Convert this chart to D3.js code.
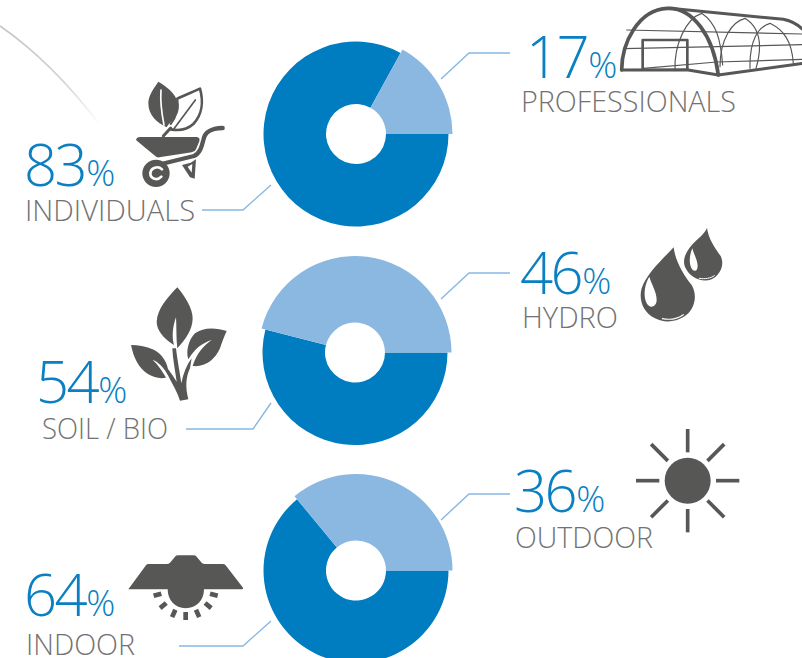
<!DOCTYPE html>
<html>
<head>
<meta charset="utf-8">
<script src="https://cdn.jsdelivr.net/npm/d3@7/dist/d3.min.js"></script>
<style>
  html, body { margin: 0; padding: 0; background: #fff; overflow: hidden; }
  svg { display: block; }
  text { font-family: "Open Sans", sans-serif; font-weight: 300; }
</style>
</head>
<body>
<div id="chart"></div>
<script>
// Share of growers by profile, growing method and location
const segmentLabels = [["INDIVIDUALS", "PROFESSIONALS"], ["SOIL / BIO", "HYDRO"], ["INDOOR", "OUTDOOR"]];
const darkValues = [83, 54, 64];
const lightValues = [17, 46, 36];

const BLUE = "#007cc0", PALE = "#8ab8e1", LEADER = "#86b8e4", TEXT = "#727272", ICON = "#575756";

// Placement of each donut and of its two captions
const layout = [
  { cx: 356, cy: 134,
    dark: { x: 24, y: 186, lx: 25, ly: 221, lw: 170, line: [[271,185],[243,210],[202,210]] },
    light: { x: 526, y: 78, lx: 521, ly: 112, lw: 215, line: [[441,79],[469,53],[510,53]] } },
  { cx: 355, cy: 352.5,
    dark: { x: 36, y: 403, lx: 42, ly: 439, lw: 126, line: [[271,403],[253,429],[186,429]] },
    light: { x: 520, y: 294, lx: 522, ly: 328, lw: 96, line: [[441,299],[469,273],[510,273]] } },
  { cx: 356, cy: 570.5,
    dark: { x: 24, y: 616, lx: 26, ly: 655, lw: 109, line: [[271,621],[243,646],[179,646]] },
    light: { x: 514, y: 512, lx: 515, ly: 548, lw: 138, line: [[441,520],[469,494],[510,494]] } }
];

const svg = d3.select("#chart").append("svg").attr("width", 802).attr("height", 658);

// Faint sweeping curve behind the top-left corner
const defs = svg.append("defs");
const fade = defs.append("linearGradient").attr("id", "sweep")
  .attr("gradientUnits", "userSpaceOnUse")
  .attr("x1", 0).attr("y1", 25).attr("x2", 100).attr("y2", 125);
fade.append("stop").attr("offset", 0).attr("stop-color", "#c4c4c4");
fade.append("stop").attr("offset", 0.6).attr("stop-color", "#d2d2d2");
fade.append("stop").attr("offset", 1).attr("stop-color", "#ffffff");
svg.append("path").attr("d", "M0 26 Q52 62 100 125").attr("fill", "none")
  .attr("stroke", "url(#sweep)").attr("stroke-width", 1.6);

const pie = d3.pie().sort(null).startAngle(Math.PI / 2).endAngle(Math.PI / 2 + 2 * Math.PI);

layout.forEach((p, i) => {
  const g = svg.append("g").attr("transform", `translate(${p.cx},${p.cy})`);
  // The pale slice stands slightly proud of the dark ring
  const arc = d3.arc().innerRadius(30).outerRadius((d, k) => d.index === 0 ? 92.5 : 96.5);
  g.selectAll("path")
    .data(pie([darkValues[i], lightValues[i]]))
    .join("path")
    .attr("d", arc)
    .attr("fill", d => d.index === 0 ? BLUE : PALE);

  [[p.dark, darkValues[i], segmentLabels[i][0]], [p.light, lightValues[i], segmentLabels[i][1]]]
    .forEach(([c, value, label]) => {
      svg.append("path").attr("d", d3.line()(c.line)).attr("fill", "none")
        .attr("stroke", LEADER).attr("stroke-width", 1.4);
      const num = svg.append("text").attr("x", c.x).attr("y", c.y).attr("fill", "#0a7fc2");
      num.append("tspan").attr("font-size", 58).attr("letter-spacing", -2.5).text(value);
      num.append("tspan").attr("font-size", 36).attr("dx", 1).text("%");
      svg.append("text").attr("x", c.lx).attr("y", c.ly).attr("fill", TEXT)
        .attr("font-size", 29.5).attr("textLength", c.lw).attr("lengthAdjust", "spacingAndGlyphs").text(label);
    });
});

// Pictograms beside each caption
const icon = (x, y) => svg.append("g").attr("transform", `translate(${x},${y}) scale(${1 / 3})`);
const fill = (g, d, c = ICON) => g.append("path").attr("d", d).attr("fill", c);
const line = (g, d, w, c = ICON) => g.append("path").attr("d", d).attr("fill", "none")
  .attr("stroke", c).attr("stroke-width", w).attr("stroke-linecap", "round").attr("stroke-linejoin", "round");

// Wheelbarrow with two leaves
const barrow = icon(0, 0);
fill(barrow, "M475 245C505 262 537 290 536 325C535 350 512 362 500 382C470 368 445 345 445 310C445 285 462 265 475 245Z");
line(barrow, "M483 270C480 310 486 345 492 375", 5, "#fff");
line(barrow, "M532 296C555 284 580 276 600 266C611 305 606 345 580 372C558 392 532 392 512 388", 8);
line(barrow, "M532 296C537 320 530 350 512 372", 6);
line(barrow, "M522 386L586 300", 5);
line(barrow, "M512 384L490 408", 9);
fill(barrow, "M408 420Q410 411 420 411L590 411Q601 412 598 424L588 448Q585 456 575 457L478 472Q470 473 465 467L432 440Z");
line(barrow, "M484 492L582 468C600 460 605 440 610 420C614 398 628 385 668 384", 13);
fill(barrow, "M546 495L572 488L588 478L584 536L570 532Z");
fill(barrow, "M563 500L575 518L577 492Z", "#fff");
barrow.append("circle").attr("cx", 468).attr("cy", 520).attr("r", 41).attr("fill", ICON);
line(barrow, "M486 508C474 496 452 503 451 520C451 537 472 543 484 530", 8, "#fff");

// Greenhouse, clipped by the right edge of the page
const house = icon(430, 0);
line(house, "M590 90L1120 102M582 146L1120 134M640 205L860 186L1120 178", 3.5);
line(house, "M735 212C732 130 770 55 815 40C860 70 872 120 878 195", 3.5);
line(house, "M870 200C870 120 905 65 945 55C985 80 1000 130 978 205", 3.5);
line(house, "M960 205C958 120 985 80 1020 70C1060 90 1085 120 1090 190", 3.5);
line(house, "M575 210C575 130 625 28 712 25C790 22 850 110 865 225", 11);
line(house, "M575 210L770 209L865 225L1120 190", 9);
line(house, "M720 25L1060 58Q1095 65 1120 90", 9);
line(house, "M638 208V120H772V208", 8);

// Water drops
const drops = icon(430, 220);
fill(drops, "M731 82C735 120 760 165 785 195C800 220 798 255 775 280C750 305 705 312 675 295C640 278 625 240 635 205C650 160 700 115 731 82Z");
fill(drops, "M658 170C645 190 638 225 650 250C660 268 680 260 680 240C680 215 665 195 658 170Z", "#fff");
line(drops, "M697 296C720 300 745 295 760 284", 3.5, "#fff");
fill(drops, "M831 24C835 55 855 85 872 108C885 135 870 165 845 178C815 190 780 172 767 145C752 115 775 85 795 65C810 52 825 38 831 24Z");
fill(drops, "M787 85C778 105 775 135 788 150C800 158 805 145 802 130C800 115 790 100 787 85Z", "#fff");
line(drops, "M808 175C825 178 842 175 853 167", 3, "#fff");

// Seedling
const plant = icon(20, 280);
fill(plant, "M472 22C495 50 518 85 518 115C518 150 495 180 472 205C468 175 470 140 468 112C458 140 455 170 462 195C430 175 410 150 410 125C412 85 445 50 472 22Z");
fill(plant, "M620 153C590 143 550 140 525 160C505 180 497 215 505 238C525 205 545 190 575 180C550 198 530 220 518 258C555 262 585 240 600 205C607 185 612 170 620 153Z");
fill(plant, "M333 195C340 230 355 265 385 283C400 292 420 297 438 293C425 270 410 250 398 240C415 245 432 265 445 285C447 250 425 220 398 208C375 198 355 195 333 195Z");
fill(plant, "M457 205L468 205C472 240 480 280 484 310C490 280 500 255 515 235L510 265C498 290 495 320 505 358L480 362C472 335 460 318 420 240C440 260 455 280 470 305C465 270 458 235 457 205Z");

// Grow lamp with a ring of dashes below the bulb
const lamp = icon(0, 540);
fill(lamp, "M385 148L438 76Q440 72 446 72L500 72Q506 72 510 68L525 50Q528 46 535 46L580 46Q587 46 590 50L605 68Q609 72 615 72L668 72Q674 72 677 76L729 143Q731 148 725 148L612 148C612 180 590 205 557 205C525 205 503 180 503 148L390 148Q385 148 385 148Z");
[-74, -50, -24, 0, 24, 50, 74].forEach(deg => {
  lamp.append("rect").attr("x", -7).attr("y", 76).attr("width", 14).attr("height", 24).attr("fill", ICON)
    .attr("transform", `translate(557,140) rotate(${-deg})`);
});

// Sun
const sun = icon(430, 420);
sun.append("circle").attr("cx", 773).attr("cy", 182).attr("r", 69).attr("fill", ICON);
d3.range(8).forEach(k => {
  const a = k * Math.PI / 4, near = k % 2 ? 84 : 85, far = 155;
  sun.append("line")
    .attr("x1", 773 + near * Math.cos(a)).attr("y1", 182 + near * Math.sin(a))
    .attr("x2", 773 + far * Math.cos(a)).attr("y2", 182 + far * Math.sin(a))
    .attr("stroke", ICON).attr("stroke-width", 11);
});
</script>
</body>
</html>
